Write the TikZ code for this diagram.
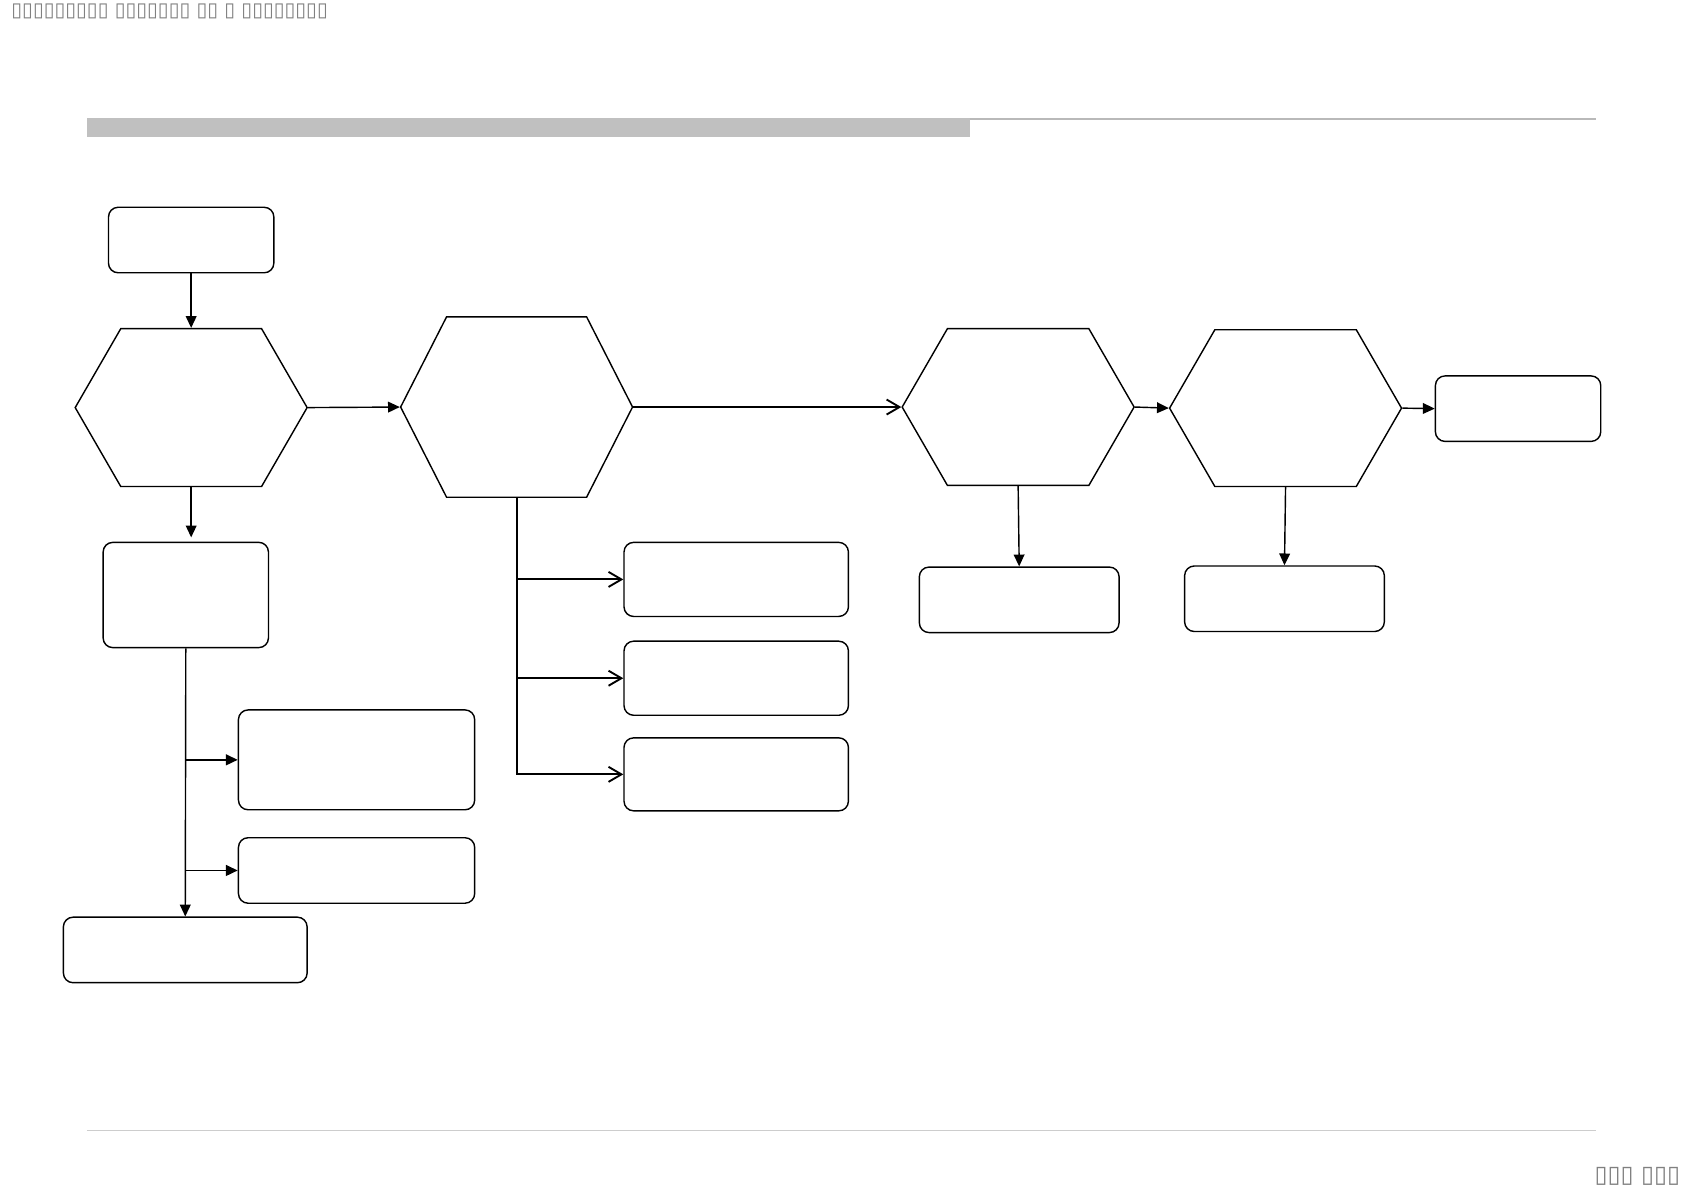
\documentclass[tikz,border=0pt]{standalone}
\usepackage{fontspec}
\usepackage{tikz}
\usetikzlibrary{arrows.meta,positioning,shapes.symbols,calc}
\usepackage{xcolor}
\newfontfamily\boxfont{DejaVu Sans}
\definecolor{bargray}{RGB}{192,192,192}
\definecolor{rulegray}{RGB}{185,185,185}
\definecolor{footgray}{RGB}{205,205,205}
\definecolor{textgray}{RGB}{128,128,128}

\begin{document}
\begin{tikzpicture}[x=0.02cm, y=-0.02cm, line width=0.75pt]
\tikzset{
  box/.style={draw, rounded corners=1.8mm, minimum width=#1},
  box/.default=3.08cm,
  hex/.style={draw, signal, signal to=east and west, signal pointer angle=120, minimum width=4.32cm, minimum height=2.94cm},
  fa/.style={-{Triangle[length=2.2mm,width=2mm]}},
  oa/.style={-{Straight Barb[length=2.4mm,width=2.8mm]}, line width=1pt}
}
\useasboundingbox (0,0) rectangle (1568,1109);
% header and footer
\fill[bargray] (81,110) rectangle (903,128);
\draw[rulegray, line width=1.1pt] (903,110.5) -- (1486,110.5);
\draw[footgray, line width=0.6pt] (81,1053) -- (1486,1053);
\node[anchor=west, inner sep=0pt, text=textgray, font=\boxfont\fontsize{10.4}{12}\selectfont] (ttl) at (10,11) {▯▯▯▯▯▯▯▯▯ ▯▯▯▯▯▯▯ ▯▯ ▯ ▯▯▯▯▯▯▯▯};
\node[anchor=east, inner sep=0pt, text=textgray, font=\boxfont\fontsize{12.5}{14}\selectfont] (pg) at (1565,1095) {▯▯▯ ▯▯▯};

% left column
\node[box, minimum height=1.22cm] (st) at (178,223.5) {};
\node[hex] (hx1) at (178,379.5) {};
\node[box, minimum height=1.96cm] (bB) at (173,554) {};
\node[box=4.4cm, minimum height=1.86cm] (bC) at (332,707.5) {};
\node[box=4.4cm, minimum height=1.22cm] (bD) at (332,810.5) {};
\node[box=4.54cm, minimum height=1.22cm] (bE) at (172.5,884.5) {};

% middle
\node[hex, minimum height=3.36cm, signal pointer angle=126] (hx2) at (481,379) {};
\node[box=4.18cm, minimum height=1.38cm] (r1) at (685.5,539.5) {};
\node[box=4.18cm, minimum height=1.38cm] (r2) at (685.5,631.5) {};
\node[box=4.18cm, minimum height=1.36cm] (r3) at (685.5,721) {};

% right
\node[hex, minimum height=2.92cm] (hx3) at (948,379) {};
\node[hex, minimum height=2.92cm] (hx4) at (1197,380) {};
\node[box, minimum height=1.22cm] (ed) at (1413.5,380.5) {};
\node[box=3.72cm, minimum height=1.22cm] (b3) at (949,558.5) {};
\node[box=3.72cm, minimum height=1.22cm] (b4) at (1196,557.5) {};

% connectors
\draw[fa] (st) -- (hx1);
\draw[fa] (hx1.east) -- (hx2.west);
\draw[fa, shorten >=0.8mm] (hx1.south) -- (hx1.south |- bB.north);
\draw[fa] (bB.south) -- (bE.north);
\draw[fa, line width=1pt] (bB.south |- bC.west) -- (bC.west);
\draw[fa, line width=1pt] (bB.south |- bD.west) -- (bD.west);
\draw[oa] (hx2.south) |- (r3.west);
\draw[oa] (hx2.south |- r1.west) -- (r1.west);
\draw[oa] (hx2.south |- r2.west) -- (r2.west);
\draw[oa] (hx2.east) -- (hx3.west);
\draw[fa] (hx3.east) -- (hx4.west);
\draw[fa] (hx4.east) -- (ed.west);
\draw[fa] (hx3.south) -- (b3.north);
\draw[fa] (hx4.south) -- (b4.north);
\end{tikzpicture}
\end{document}
